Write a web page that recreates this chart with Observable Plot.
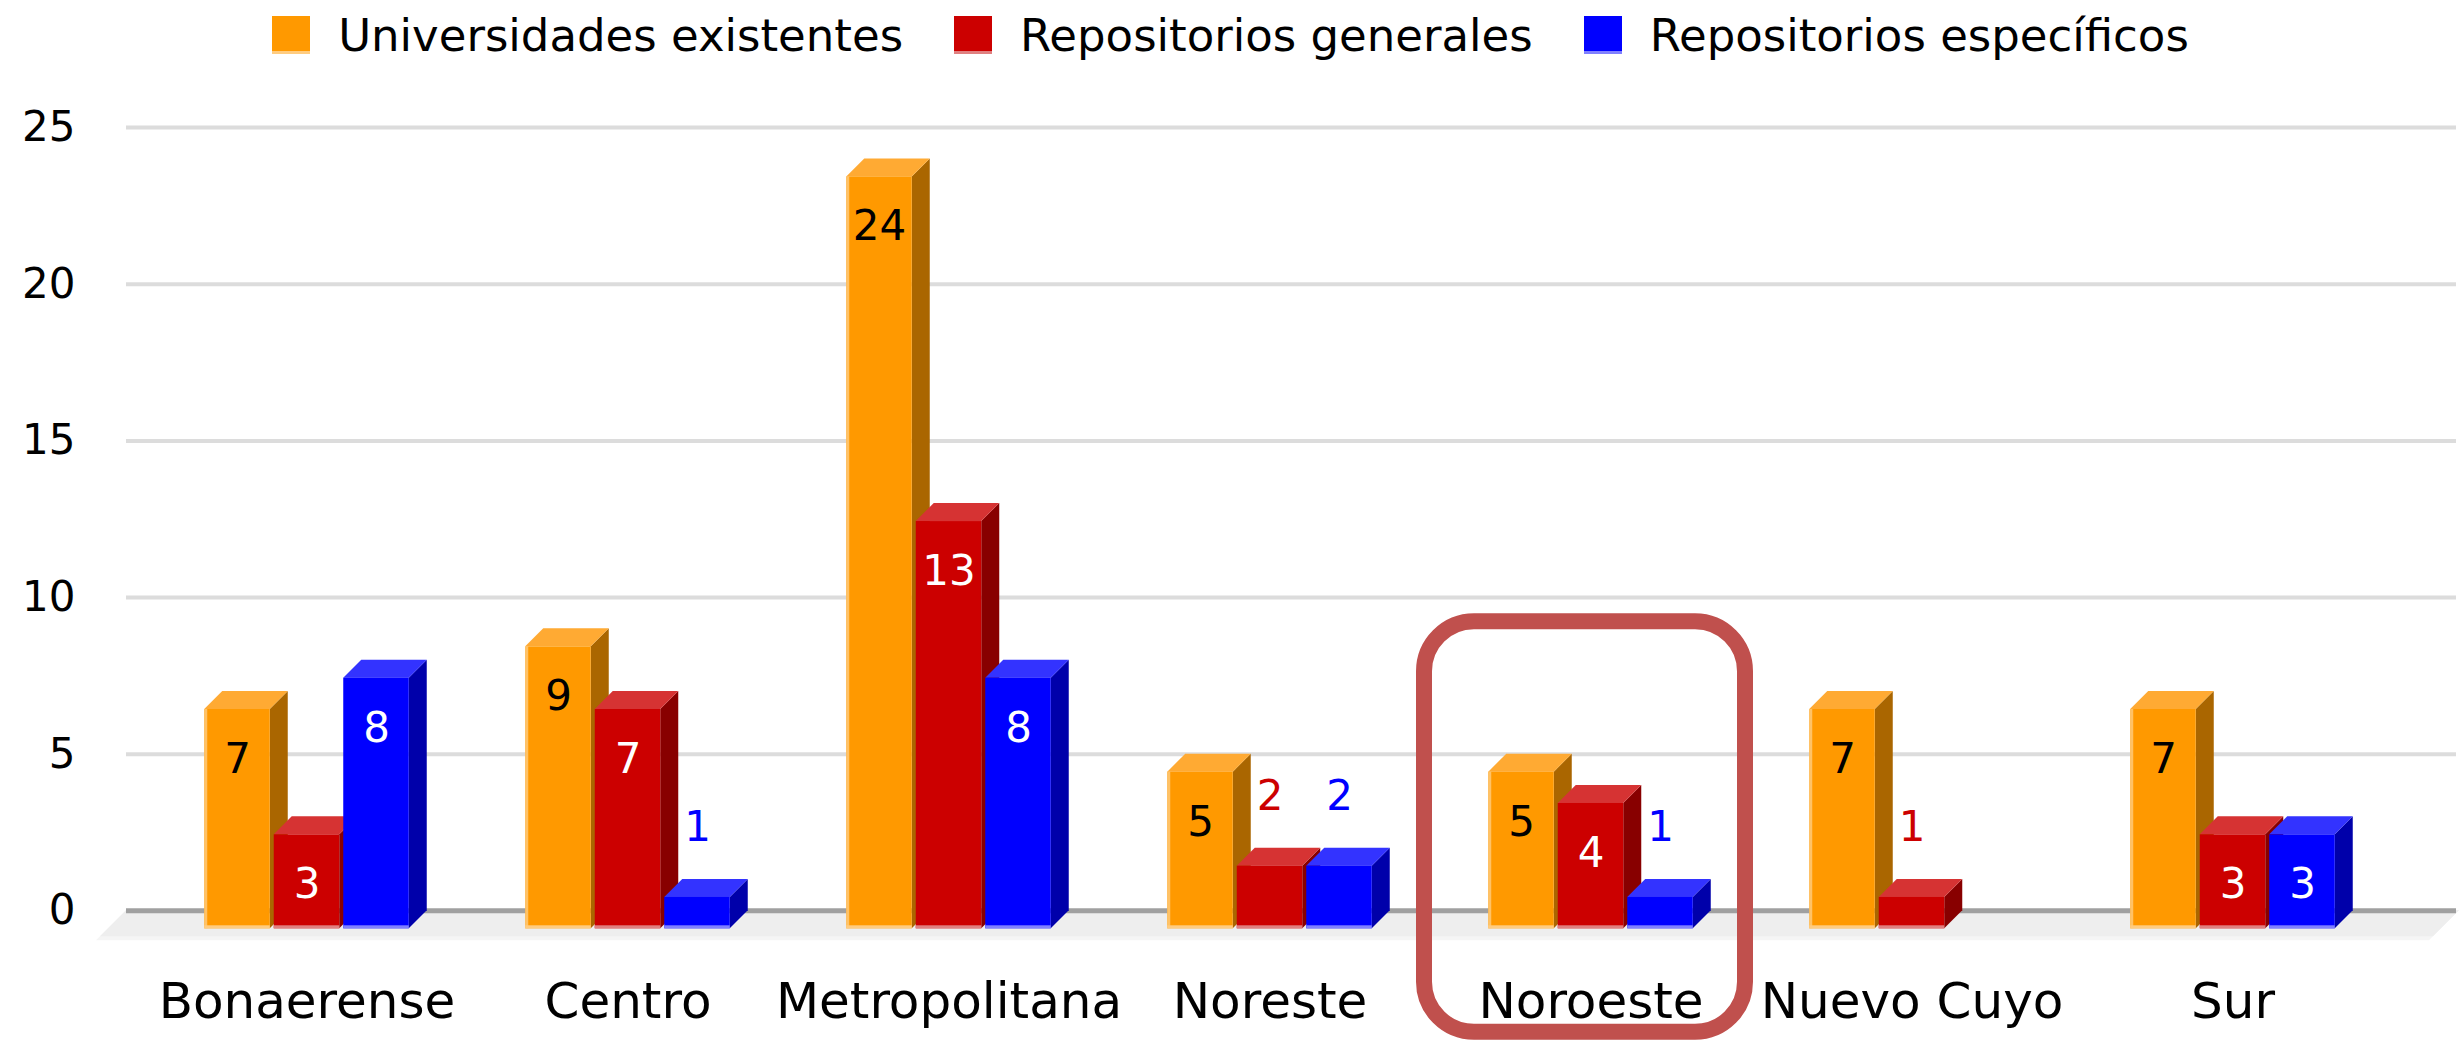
<!DOCTYPE html>
<html>
<head>
<meta charset="utf-8">
<script src="https://cdn.jsdelivr.net/npm/d3@7"></script>
<script src="https://cdn.jsdelivr.net/npm/@observablehq/plot@0.6"></script>
<style>
  html, body { margin: 0; padding: 0; background: #fff; }
  #legend { height: 70px; display: flex; justify-content: center; align-items: center; gap: 51px;
            font-family: "DejaVu Sans", sans-serif; font-size: 45px; color: #000; }
  #legend .item { display: flex; align-items: center; white-space: nowrap; }
  #legend .sw { width: 38px; height: 35px; margin-right: 28px; box-sizing: content-box; border-bottom: 3px solid; }
  #chart svg { display: block; }
</style>
</head>
<body>
<div id="legend"></div>
<div id="chart"></div>
<script>
// ---- data ----
const regions = ["Bonaerense", "Centro", "Metropolitana", "Noreste", "Noroeste", "Nuevo Cuyo", "Sur"];
const seriesNames = ["Universidades existentes", "Repositorios generales", "Repositorios específicos"];
const universidades = [7, 9, 24, 5, 5, 7, 7];
const repoGenerales = [3, 7, 13, 2, 4, 1, 3];
const repoEspecificos = [8, 1, 8, 2, 1, 0, 3];
const yTicks = [0, 5, 10, 15, 20, 25];
const highlightRegion = ["Noroeste"];
const highlightExtent = [-3.88, 9.23];

// ---- styles ----
const palette = [
  {front: "#FF9900", top: "#FFAA33", side: "#AA6600", edge: "#FFCC80", inside: "#000000"},
  {front: "#CC0000", top: "#D63333", side: "#880000", edge: "#E08080", inside: "#FFFFFF"},
  {front: "#0000FF", top: "#3333FF", side: "#0000AA", edge: "#8080FF", inside: "#FFFFFF"}
];
const seriesValues = [universidades, repoGenerales, repoEspecificos];

const rows = [];
regions.forEach((r, i) => seriesValues.forEach((vals, s) => {
  rows.push({region: r, series: seriesNames[s], s, value: vals[i]});
}));

// legend
const legend = document.getElementById("legend");
seriesNames.forEach((name, s) => {
  const it = document.createElement("div");
  it.className = "item";
  const sw = document.createElement("span");
  sw.className = "sw";
  sw.style.background = palette[s].front;
  sw.style.borderBottomColor = palette[s].edge;
  it.appendChild(sw);
  it.appendChild(document.createTextNode(name));
  legend.appendChild(it);
});

const W = 2461, H = 970;
const D = 18;          // 3D depth (px)
const barW = 65.5;     // front face width
const pitch = 69.5;    // distance between bars in a group

const SVGNS = "http://www.w3.org/2000/svg";

function floorMark() {
  return Plot.dot([0], {
    x: () => regions[0], y: d => d,
    render(index, scales, values, dim, ctx) {
      const y0 = scales.y(0);
      const L = dim.marginLeft, R = dim.width - 2;
      const g = d3.select(ctx.document.createElementNS(SVGNS, "g"));
      g.append("path").attr("fill", "#f5f5f5")
        .attr("d", `M${L},${y0}H${R}L${R - 30},${y0 + 30}H${L - 30}Z`);
      g.append("path").attr("fill", "#eeeeee")
        .attr("d", `M${L},${y0}H${R}L${R - 26},${y0 + 26}H${L - 26}Z`);
      return g.node();
    }
  });
}

function bars3dMark(data) {
  return Plot.dot(data, {
    x: "region", y: "value",
    render(index, scales, values, dim, ctx) {
      const {x, y} = scales;
      const step = x(regions[1]) - x(regions[0]);
      const groupOffset = (step - (2 * pitch + barW)) / 2;
      const g = d3.select(ctx.document.createElementNS(SVGNS, "g"));
      const y0 = y(0);
      for (const i of index) {
        const d = data[i];
        if (!(d.value > 0)) continue;
        const c = palette[d.s];
        const x0 = x(d.region) + groupOffset + d.s * pitch;
        const x1 = x0 + barW;
        const yv = y(d.value);
        // side face
        g.append("path").attr("fill", c.side)
          .attr("d", `M${x1},${yv + D}L${x1 + D},${yv}L${x1 + D},${y0}L${x1},${y0 + D}Z`);
        // top face
        g.append("path").attr("fill", c.top)
          .attr("d", `M${x0},${yv + D}L${x0 + D},${yv}L${x1 + D},${yv}L${x1},${yv + D}Z`);
        // front face
        g.append("rect").attr("fill", c.front)
          .attr("x", x0).attr("y", yv + D).attr("width", barW).attr("height", y0 - yv);
        // light bottom edge
        g.append("rect").attr("fill", c.edge)
          .attr("x", x0).attr("y", y0 + D - 3).attr("width", barW).attr("height", 3);
        if (d.s === 0) {
          g.append("rect").attr("fill", c.edge).attr("opacity", 0.8)
            .attr("x", x0).attr("y", yv + D).attr("width", 3).attr("height", y0 - yv);
        }
      }
      return g.node();
    }
  });
}

const labelMarks = [];
[0, 1, 2].forEach(s => {
  const inside = rows.filter(d => d.s === s && d.value >= 3);
  const outside = rows.filter(d => d.s === s && d.value > 0 && d.value < 3);
  labelMarks.push(Plot.text(inside, {
    x: "region", y: "value", text: d => String(d.value),
    dx: (s - 1) * pitch, dy: 68, fill: palette[s].inside, fontSize: 42
  }));
  labelMarks.push(Plot.text(outside, {
    x: "region", y: "value", text: d => String(d.value),
    dx: (s - 1) * pitch, dy: -52, fill: palette[s].front, fontSize: 42
  }));
});

const chart = Plot.plot({
  width: W,
  height: H,
  marginLeft: 126,
  marginRight: 5,
  marginTop: 0,
  marginBottom: 130,
  style: {fontFamily: "DejaVu Sans, sans-serif", background: "#fff", color: "#000", overflow: "visible"},
  x: {domain: regions, range: [144.65, 2393.75], padding: 0, axis: null},
  y: {domain: [0, 25], range: [840.3, 57.1], axis: null},
  marks: [
    floorMark(),
    Plot.ruleY(yTicks.filter(t => t > 0), {stroke: "#dcdcdc", strokeWidth: 4}),
    Plot.ruleY([0], {stroke: "#a0a0a0", strokeWidth: 5}),
    Plot.axisY(yTicks, {tickSize: 0, tickPadding: 51, fontSize: 42, label: null, fill: "#000"}),
    Plot.axisX({tickSize: 0, tickPadding: 72, fontSize: 50, label: null, fill: "#000"}),
    bars3dMark(rows),
    ...labelMarks,
    Plot.barY(highlightRegion.map(r => ({region: r, y1: highlightExtent[0], y2: highlightExtent[1]})), {
      x: "region", y1: "y1", y2: "y2", fill: "none", stroke: "#C0504D", strokeWidth: 16,
      rx: 50, dx: -6
    })
  ]
});
document.getElementById("chart").appendChild(chart);
</script>
</body>
</html>
